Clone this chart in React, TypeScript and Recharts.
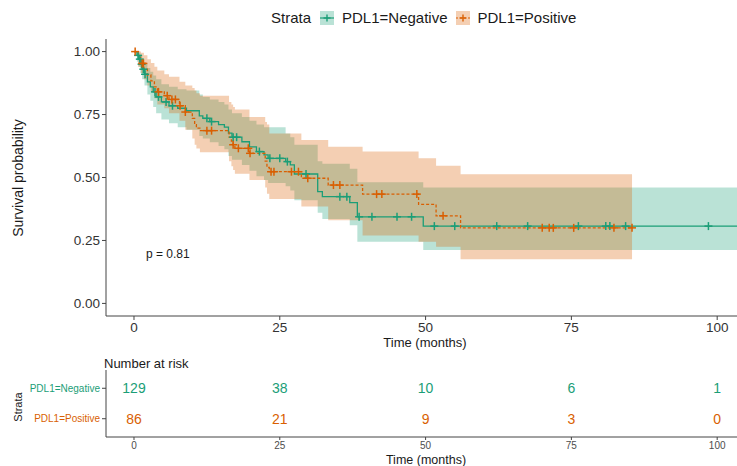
import React from 'react';
import { ComposedChart, Line, Area, Scatter, XAxis, YAxis, Legend } from 'recharts';

const GREEN = '#1B9E77';
const ORANGE = '#D95F02';
const AXIS = '#444444';
const FONT = '"Liberation Sans", Arial, Helvetica, sans-serif';

// ---- Kaplan-Meier estimate, PDL1=Negative ----
const negTime = [0, 0.5, 0.8, 1.1, 1.4, 1.8, 2.3, 2.8, 3.3, 3.8, 4.7, 6.0, 7.5, 9.0, 11.2, 11.8, 13.0, 14.5, 15.5, 16.2, 16.8, 18.5, 19.8, 21.0, 22.3, 23.0, 26.0, 26.8, 27.5, 31.5, 32.3, 37.0, 38.3, 49.6];
const negSurv = [1, 0.985, 0.97, 0.95, 0.93, 0.91, 0.88, 0.86, 0.84, 0.82, 0.8, 0.785, 0.775, 0.765, 0.745, 0.735, 0.722, 0.71, 0.7, 0.676, 0.66, 0.642, 0.622, 0.603, 0.59, 0.576, 0.563, 0.55, 0.514, 0.444, 0.424, 0.4, 0.344, 0.307];
const negLower = [1, 0.96, 0.94, 0.915, 0.89, 0.865, 0.83, 0.805, 0.78, 0.755, 0.73, 0.715, 0.7, 0.69, 0.665, 0.655, 0.64, 0.625, 0.612, 0.585, 0.57, 0.55, 0.527, 0.505, 0.49, 0.478, 0.465, 0.448, 0.41, 0.36, 0.335, 0.31, 0.245, 0.212];
const negUpper = [1, 1, 0.995, 0.985, 0.97, 0.955, 0.935, 0.92, 0.905, 0.89, 0.87, 0.86, 0.85, 0.845, 0.83, 0.82, 0.81, 0.8, 0.79, 0.77, 0.755, 0.74, 0.725, 0.71, 0.7, 0.7, 0.675, 0.66, 0.63, 0.565, 0.555, 0.535, 0.481, 0.46];
const negEnd = 104.6;
const negCensor = [0.7, 1.0, 1.3, 1.6, 1.9, 3.6, 4.2, 5.5, 6.6, 12.5, 13.3, 17.0, 17.6, 21.5, 23.3, 25.0, 26.3, 29.5, 35.3, 36.5, 38.6, 40.8, 45.1, 47.6, 51.5, 55.0, 62.2, 67.5, 76.2, 80.9, 81.6, 84.3, 98.5];

// ---- Kaplan-Meier estimate, PDL1=Positive ----
const posTime = [0, 0.7, 1.2, 1.7, 2.3, 2.9, 3.5, 4.0, 5.2, 6.0, 7.8, 8.8, 10.0, 10.4, 10.7, 11.3, 16.3, 16.7, 17.0, 17.3, 19.8, 22.5, 22.8, 23.2, 28.7, 33.3, 39.2, 48.8, 51.8, 56.0];
const posSurv = [1, 0.977, 0.953, 0.93, 0.907, 0.884, 0.86, 0.84, 0.825, 0.81, 0.785, 0.76, 0.735, 0.71, 0.696, 0.686, 0.66, 0.645, 0.63, 0.616, 0.596, 0.565, 0.54, 0.523, 0.497, 0.47, 0.434, 0.393, 0.348, 0.3];
const posLower = [1, 0.94, 0.915, 0.89, 0.865, 0.84, 0.815, 0.79, 0.775, 0.755, 0.725, 0.69, 0.655, 0.63, 0.615, 0.6, 0.565, 0.545, 0.53, 0.515, 0.49, 0.46, 0.435, 0.415, 0.385, 0.33, 0.27, 0.245, 0.225, 0.175];
const posUpper = [1, 1, 0.995, 0.985, 0.97, 0.955, 0.94, 0.925, 0.91, 0.9, 0.88, 0.865, 0.855, 0.845, 0.835, 0.825, 0.8, 0.79, 0.78, 0.77, 0.74, 0.72, 0.71, 0.675, 0.649, 0.622, 0.603, 0.576, 0.547, 0.513];
const posEnd = 85.4;
const posCensor = [0.2, 1.4, 1.6, 4.2, 5.7, 6.5, 7.1, 7.9, 8.8, 12.5, 13.3, 17.0, 17.9, 19.6, 19.9, 23.5, 24.0, 27.0, 28.2, 29.8, 34.2, 35.3, 41.6, 42.5, 48.5, 53.0, 70.0, 71.2, 71.9, 75.4, 82.3, 85.4];

// ---- Number at risk ----
const riskTimes = [0, 25, 50, 75, 100];
const negRisk = [129, 38, 10, 6, 1];
const posRisk = [86, 21, 9, 3, 0];

const xTicks = [0, 25, 50, 75, 100];
const yTicks = [0, 0.25, 0.5, 0.75, 1];
const X_DOMAIN: [number, number] = [-4.8, 104.6];

type Row = { t: number; s: number; band: [number, number] };

function buildCurve(times: number[], surv: number[], lower: number[], upper: number[], end: number): Row[] {
  const rows: Row[] = times.map((t, i) => ({ t, s: surv[i], band: [lower[i], upper[i]] as [number, number] }));
  const last = rows[rows.length - 1];
  rows.push({ t: end, s: last.s, band: last.band });
  return rows;
}

function survAt(times: number[], surv: number[], t: number): number {
  let v = surv[0];
  for (let i = 0; i < times.length; i++) if (times[i] <= t) v = surv[i];
  return v;
}

const negCurve = buildCurve(negTime, negSurv, negLower, negUpper, negEnd);
const posCurve = buildCurve(posTime, posSurv, posLower, posUpper, posEnd);
const negMarks = negCensor.map((t) => ({ t, s: survAt(negTime, negSurv, t) }));
const posMarks = posCensor.map((t) => ({ t, s: survAt(posTime, posSurv, t) }));

const negRiskRows = riskTimes.map((t, i) => ({ t, row: 1, n: negRisk[i] }));
const posRiskRows = riskTimes.map((t, i) => ({ t, row: 0, n: posRisk[i] }));

const plusShape = (color: string) => (props: any) => {
  const { cx, cy } = props;
  if (cx == null || cy == null) return <g />;
  return (
    <g>
      <line x1={cx - 4} x2={cx + 4} y1={cy} y2={cy} stroke={color} strokeWidth={1.5} />
      <line x1={cx} x2={cx} y1={cy - 4} y2={cy + 4} stroke={color} strokeWidth={1.5} />
    </g>
  );
};

const riskText = (color: string) => (props: any) => {
  const { cx, cy, payload } = props;
  return (
    <text x={cx} y={cy} dy="0.36em" textAnchor="middle" fontSize={14} fill={color} fontFamily={FONT}>
      {payload.n}
    </text>
  );
};

const RiskTick = (props: any) => {
  const { x, y, payload } = props;
  const neg = payload.value === 1;
  return (
    <text x={x} y={y} dy="0.36em" textAnchor="end" fontSize={10} fill={neg ? GREEN : ORANGE} fontFamily={FONT}>
      {neg ? 'PDL1=Negative' : 'PDL1=Positive'}
    </text>
  );
};

const LegendKey = ({ color, dashed }: { color: string; dashed?: boolean }) => (
  <svg width={14} height={14} style={{ display: 'block' }}>
    <rect x={0} y={0} width={14} height={14} fill={color} fillOpacity={0.3} />
    <line x1={0} x2={14} y1={7} y2={7} stroke={color} strokeWidth={1.2} strokeDasharray={dashed ? '2 2' : undefined} />
    <line x1={7} x2={7} y1={3.5} y2={10.5} stroke={color} strokeWidth={1.4} />
    <line x1={3.5} x2={10.5} y1={7} y2={7} stroke={color} strokeWidth={1.4} />
  </svg>
);

const LegendContent = () => (
  <div style={{ display: 'flex', alignItems: 'center', fontFamily: FONT, fontSize: 15, color: '#1a1a1a', lineHeight: '18px', whiteSpace: 'nowrap' }}>
    <span>Strata</span>
    <span style={{ marginLeft: 9 }}><LegendKey color={GREEN} /></span>
    <span style={{ marginLeft: 8 }}>PDL1=Negative</span>
    <span style={{ marginLeft: 8 }}><LegendKey color={ORANGE} dashed /></span>
    <span style={{ marginLeft: 8 }}>PDL1=Positive</span>
  </div>
);

const tickStyle = { fontSize: 13.5, fill: '#333333', fontFamily: FONT };

export default function App() {
  return (
    <div style={{ position: 'absolute', left: 0, top: 0, width: 737, height: 466, overflow: 'hidden', background: '#ffffff', fontFamily: FONT }}>
      <div style={{ position: 'absolute', left: 0, top: 0 }}>
        <ComposedChart width={744} height={350} margin={{ top: 39, right: 0, bottom: 0, left: 0 }}>
          <XAxis
            type="number"
            dataKey="t"
            domain={X_DOMAIN}
            allowDataOverflow
            ticks={xTicks}
            height={34}
            tickSize={4}
            tickMargin={2}
            tick={tickStyle}
            stroke={AXIS}
          />
          <YAxis
            type="number"
            domain={[-0.05, 1.05]}
            allowDataOverflow
            ticks={yTicks}
            width={106}
            tickSize={4}
            tickMargin={2}
            tick={tickStyle}
            tickFormatter={(v: number) => v.toFixed(2)}
            stroke={AXIS}
          />
          <Legend
            layout="horizontal"
            verticalAlign="middle"
            align="center"
            wrapperStyle={{ top: 9, left: 271, width: 330, height: 18 }}
            content={() => <LegendContent />}
          />
          <Area data={negCurve} dataKey="band" type="stepAfter" stroke="none" fill={GREEN} fillOpacity={0.3} isAnimationActive={false} />
          <Area data={posCurve} dataKey="band" type="stepAfter" stroke="none" fill={ORANGE} fillOpacity={0.3} isAnimationActive={false} />
          <Line data={negCurve} dataKey="s" type="stepAfter" stroke={GREEN} strokeWidth={1.3} dot={false} activeDot={false} isAnimationActive={false} />
          <Line data={posCurve} dataKey="s" type="stepAfter" stroke={ORANGE} strokeWidth={1.3} strokeDasharray="3 2" dot={false} activeDot={false} isAnimationActive={false} />
          <Scatter data={negMarks} dataKey="s" shape={plusShape(GREEN)} isAnimationActive={false} />
          <Scatter data={posMarks} dataKey="s" shape={plusShape(ORANGE)} isAnimationActive={false} />
        </ComposedChart>
      </div>

      <div style={{ position: 'absolute', left: 0, top: 350 }}>
        <ComposedChart width={744} height={116} margin={{ top: 20, right: 0, bottom: 0, left: 0 }}>
          <XAxis
            type="number"
            dataKey="t"
            domain={X_DOMAIN}
            allowDataOverflow
            ticks={xTicks}
            height={29}
            tickSize={3}
            tickMargin={2}
            tick={{ fontSize: 10, fill: '#4d4d4d', fontFamily: FONT }}
            stroke={AXIS}
          />
          <YAxis
            type="number"
            domain={[-0.6, 1.6]}
            allowDataOverflow
            ticks={[0, 1]}
            width={106}
            tickSize={4}
            tickMargin={2}
            tick={<RiskTick />}
            stroke={AXIS}
          />
          <Scatter data={negRiskRows} dataKey="row" shape={riskText(GREEN)} isAnimationActive={false} />
          <Scatter data={posRiskRows} dataKey="row" shape={riskText(ORANGE)} isAnimationActive={false} />
        </ComposedChart>
      </div>

      <svg width={737} height={466} style={{ position: 'absolute', left: 0, top: 0, pointerEvents: 'none' }}>
        <text x={18} y={178} transform="rotate(-90 18 178)" textAnchor="middle" dominantBaseline="central" fontSize={14} fill="#1a1a1a" fontFamily={FONT}>
          Survival probability
        </text>
        <text x={425} y={342} textAnchor="middle" dominantBaseline="central" fontSize={13} fill="#1a1a1a" fontFamily={FONT}>
          Time (months)
        </text>
        <text x={146} y={254} dominantBaseline="central" fontSize={12} fill="#1a1a1a" fontFamily={FONT}>
          p = 0.81
        </text>
        <text x={104} y={363} dominantBaseline="central" fontSize={13} fill="#1a1a1a" fontFamily={FONT}>
          Number at risk
        </text>
        <text x={18} y={407} transform="rotate(-90 18 407)" textAnchor="middle" dominantBaseline="central" fontSize={11} fill="#1a1a1a" fontFamily={FONT}>
          Strata
        </text>
        <text x={426} y={460} textAnchor="middle" dominantBaseline="central" fontSize={12.5} fill="#1a1a1a" fontFamily={FONT}>
          Time (months)
        </text>
      </svg>
    </div>
  );
}
